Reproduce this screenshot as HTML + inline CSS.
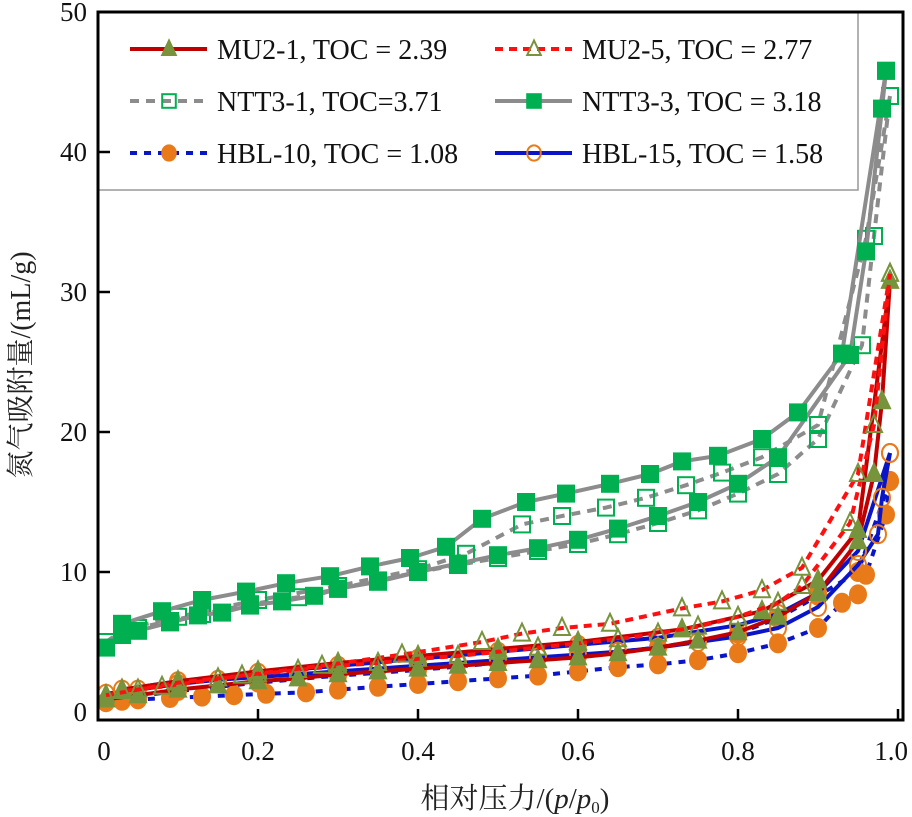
<!DOCTYPE html>
<html><head><meta charset="utf-8"><style>
body{margin:0;background:#fff}
svg{display:block}
text{font-family:"Liberation Serif","Times New Roman","Noto Serif CJK SC",serif}
</style></head><body>
<svg id="chart" width="912" height="817" viewBox="0 0 912 817" xmlns="http://www.w3.org/2000/svg">
<g id="plot"></g>
<g id="legend"></g>
<rect x="98" y="12" width="805" height="708" fill="none" stroke="#000" stroke-width="3"/>
<g id="axes"></g>
<text transform="translate(30,365) rotate(-90)" text-anchor="middle" font-size="28" fill="#222">氮气吸附量/(mL/g)</text>
<text x="515" y="808" text-anchor="middle" font-size="29" fill="#222">相对压力/(<tspan font-style="italic">p</tspan>/<tspan font-style="italic">p</tspan><tspan font-size="17" dy="5">0</tspan><tspan dy="-5">)</tspan></text>
</svg>
<script>
const xTicks=[0,0.2,0.4,0.6,0.8,1.0];
const xTickLabels=["0","0.2","0.4","0.6","0.8","1.0"];
const yTicks=[0,10,20,30,40,50];
const seriesNames=["MU2-1, TOC = 2.39","MU2-5, TOC = 2.77","NTT3-1, TOC=3.71","NTT3-3, TOC = 3.18","HBL-10, TOC = 1.08","HBL-15, TOC = 1.58"];
const ntt33Ads=[[0.01,4.6],[0.03,5.5],[0.05,5.8],[0.09,6.4],[0.125,6.9],[0.155,7.1],[0.19,7.6],[0.23,7.9],[0.27,8.3],[0.30,8.8],[0.35,9.3],[0.40,10.0],[0.45,10.6],[0.50,11.2],[0.55,11.7],[0.60,12.3],[0.65,13.1],[0.70,14.0],[0.75,15.0],[0.80,16.3],[0.85,18.2],[0.94,25.5],[0.96,32.9],[0.98,43.1],[0.985,45.8]];
const ntt33Des=[[0.985,45.8],[0.93,25.6],[0.875,21.4],[0.83,19.5],[0.775,18.3],[0.73,17.9],[0.69,17.0],[0.64,16.3],[0.585,15.6],[0.535,15.0],[0.48,13.8],[0.435,11.8],[0.39,11.0],[0.34,10.4],[0.29,9.7],[0.235,9.2],[0.185,8.6],[0.13,8.0],[0.08,7.2],[0.03,6.3]];
const ntt31Ads=[[0.01,5.0],[0.03,5.8],[0.05,6.0],[0.09,6.5],[0.13,7.0],[0.19,7.7],[0.25,8.2],[0.30,8.8],[0.35,9.4],[0.40,10.0],[0.45,10.5],[0.50,11.0],[0.55,11.5],[0.60,12.0],[0.65,12.7],[0.70,13.5],[0.75,14.4],[0.80,15.6],[0.85,17.0],[0.90,19.5],[0.955,26.2],[0.97,34.0],[0.99,44.0]];
const ntt31Des=[[0.99,44.0],[0.96,33.8],[0.90,20.5],[0.83,18.2],[0.78,17.1],[0.735,16.2],[0.685,15.3],[0.635,14.6],[0.58,14.0],[0.53,13.4],[0.46,11.3],[0.40,10.2],[0.30,9.0],[0.20,8.0],[0.10,6.8],[0.03,5.9]];
const mu21Ads=[[0.01,0.9],[0.05,1.2],[0.1,1.6],[0.15,1.9],[0.2,2.2],[0.25,2.4],[0.3,2.7],[0.35,2.9],[0.4,3.1],[0.45,3.3],[0.5,3.5],[0.55,3.7],[0.6,3.9],[0.65,4.2],[0.7,4.6],[0.75,5.1],[0.8,5.7],[0.85,6.8],[0.9,8.5],[0.95,12.2],[0.97,17.0],[0.98,22.2],[0.99,30.8]];
const mu21Des=[[0.99,30.8],[0.95,13.0],[0.9,9.4],[0.83,7.2],[0.73,5.9],[0.6,5.0],[0.5,4.5],[0.4,4.0],[0.3,3.5],[0.2,2.9],[0.1,2.2],[0.03,1.6]];
const mu25Ads=[[0.01,1.2],[0.05,1.6],[0.1,2.1],[0.15,2.4],[0.2,2.7],[0.25,3.0],[0.3,3.3],[0.35,3.5],[0.4,3.8],[0.45,4.0],[0.5,4.3],[0.55,4.6],[0.6,4.9],[0.65,5.2],[0.7,5.6],[0.75,6.1],[0.8,6.8],[0.85,7.8],[0.88,9.0],[0.94,13.5],[0.97,20.5],[0.99,31.3]];
const mu25Des=[[0.99,31.3],[0.95,17.0],[0.88,10.3],[0.83,8.7],[0.78,7.9],[0.73,7.4],[0.64,6.3],[0.58,6.0],[0.53,5.6],[0.48,5.0],[0.38,4.1],[0.28,3.3],[0.18,2.6],[0.08,1.8],[0.03,1.5]];
const hbl10Ads=[[0.01,0.7],[0.03,0.8],[0.05,0.9],[0.09,1.0],[0.13,1.1],[0.17,1.2],[0.21,1.3],[0.26,1.4],[0.30,1.6],[0.35,1.8],[0.40,2.0],[0.45,2.2],[0.50,2.4],[0.55,2.6],[0.60,2.9],[0.65,3.2],[0.70,3.4],[0.75,3.7],[0.80,4.2],[0.85,4.9],[0.90,6.0],[0.93,7.8],[0.95,8.4],[0.96,9.8],[0.985,14.1],[0.99,16.5]];
const hbl10Des=[[0.99,16.5],[0.95,10.0],[0.9,8.3],[0.85,6.7],[0.8,5.6],[0.7,4.6],[0.6,4.0],[0.5,3.5],[0.4,3.0],[0.3,2.6],[0.2,2.1],[0.1,1.5],[0.03,1.0]];
const hbl15Ads=[[0.01,1.3],[0.05,1.6],[0.1,2.0],[0.15,2.3],[0.2,2.5],[0.25,2.7],[0.3,2.9],[0.35,3.1],[0.4,3.3],[0.45,3.5],[0.5,3.7],[0.55,3.9],[0.6,4.1],[0.65,4.3],[0.7,4.6],[0.75,5.0],[0.8,5.4],[0.85,6.0],[0.9,7.5],[0.95,10.5],[0.975,12.7],[0.98,15.3],[0.99,18.5]];
const hbl15Des=[[0.99,18.5],[0.95,11.5],[0.9,8.5],[0.85,7.0],[0.8,6.2],[0.7,5.3],[0.6,4.8],[0.5,4.3],[0.4,3.8],[0.3,3.3],[0.2,2.8],[0.1,2.2],[0.03,1.6]];

const NS="http://www.w3.org/2000/svg";
const X=v=>98+800*v, Y=v=>712-14*v;
function mk(tag,attrs,parent){const e=document.createElementNS(NS,tag);for(const k in attrs)e.setAttribute(k,attrs[k]);parent.appendChild(e);return e;}
const plot=document.getElementById('plot'), axes=document.getElementById('axes'), legend=document.getElementById('legend');

function marker(kind,cx,cy,parent,nm,sc){
  let e;const s=8*sc;
  if(kind==='sqF'||kind==='sqO'){e=mk('rect',{x:cx-s,y:cy-s,width:2*s,height:2*s,fill:kind==='sqF'?'#00b050':'none',stroke:'#00b050','stroke-width':2},parent);}
  else if(kind==='trF'||kind==='trO'){e=mk('polygon',{points:`${cx},${cy-10*sc} ${cx-8*sc},${cy+7*sc} ${cx+8*sc},${cy+7*sc}`,fill:kind==='trF'?'#77933c':'none',stroke:'#77933c','stroke-width':2},parent);}
  else {e=mk('ellipse',{cx:cx,cy:cy,rx:8*sc,ry:9*sc,fill:kind==='ciF'?'#e97a1a':'none',stroke:'#e97a1a','stroke-width':2},parent);}
  
  
}
const series=[
 {id:'ntt3-1',ads:ntt31Ads,des:ntt31Des,col:'#8c8c8c',dash:'9,7',mk:'sqO'},
 {id:'ntt3-3',ads:ntt33Ads,des:ntt33Des,col:'#8c8c8c',dash:'',mk:'sqF'},
 {id:'hbl-10',ads:hbl10Ads,des:hbl10Des,col:'#0a14c8',dash:'7,7',mk:'ciF'},
 {id:'hbl-15',ads:hbl15Ads,des:hbl15Des,col:'#0a14c8',dash:'',mk:'ciO'},
 {id:'mu2-1',ads:mu21Ads,des:mu21Des,col:'#c00000',dash:'',mk:'trF'},
 {id:'mu2-5',ads:mu25Ads,des:mu25Des,col:'#ff1010',dash:'8,6',mk:'trO'}
];
series.forEach(s=>{
  const g=mk('g',{},plot);
  
  
  [s.ads,s.des].forEach((arr,i)=>{
    const p=mk('polyline',{points:arr.map(d=>X(d[0])+','+Y(d[1])).join(' '),fill:'none',stroke:s.col,'stroke-width':4,'stroke-dasharray':s.dash,'stroke-linejoin':'round'},g);
    
    
  });
  [s.ads,s.des].forEach(arr=>arr.forEach(d=>marker(s.mk,X(d[0]),Y(d[1]),g,s.id+'-point',1)));
});
xTicks.forEach((v,i)=>{
  const t=mk('line',{x1:X(v),x2:X(v),y1:720,y2:709,stroke:'#000','stroke-width':2.5},axes);
  
  
  const last=i===xTicks.length-1;
  const l=mk('text',{x:i===0?104:(last?908:X(v)),y:760,'text-anchor':last?'end':'middle','font-size':27,fill:'#111'},axes);
  l.textContent=xTickLabels[i];
  
  
});
yTicks.forEach(v=>{
  if(v>0&&v<50){const t=mk('line',{x1:98,x2:110,y1:Y(v),y2:Y(v),stroke:'#000','stroke-width':2.5},axes);
  
  }
  const l=mk('text',{x:87,y:Y(v)+9,'text-anchor':'end','font-size':27,fill:'#111'},axes);
  l.textContent=String(v);
  
  
});
const box=mk('rect',{x:98,y:12,width:760,height:178,fill:'#fff',stroke:'#999','stroke-width':1.5},legend);


const legMap=[series[4],series[5],series[0],series[1],series[2],series[3]];
legMap.forEach((s,i)=>{
  const col=i%2, row=Math.floor(i/2);
  const x0=col?495:130, y0=49+row*52;
  const g=mk('g',{},legend);
  
  
  mk('line',{x1:x0,x2:x0+77,y1:y0,y2:y0,stroke:s.col,'stroke-width':4,'stroke-dasharray':s.dash},g);
  marker(s.mk,x0+39,y0,g,'legend-marker',0.85);
  const t=mk('text',{x:x0+87,y:y0+10,'font-size':28,fill:'#111'},g);
  t.textContent=seriesNames[i];
});
</script>
</body></html>
